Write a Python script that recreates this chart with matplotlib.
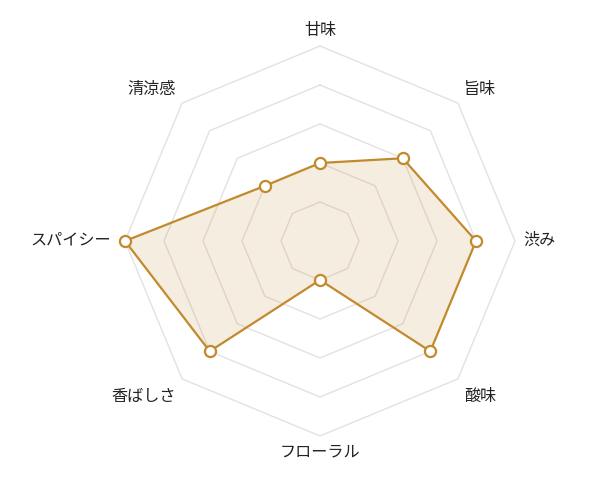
import numpy as np
import matplotlib
matplotlib.use('Agg')
import matplotlib.pyplot as plt

plt.rcParams['font.family'] = ['Noto Sans CJK JP', 'DejaVu Sans']

labels = ['甘味', '旨味', '渋み', '酸味', 'フローラル', '香ばしさ', 'スパイシー', '清涼感']
values = [2, 3, 4, 4, 1, 4, 5, 2]
levels = [1, 2, 3, 4, 5]

line_color = '#C28A2C'
grid_color = '#E2E2E2'

n = len(labels)
# clockwise from the top
angles = np.pi / 2 - np.arange(n) * 2 * np.pi / n

fig = plt.figure(figsize=(5.9, 4.82), dpi=100)
ax = fig.add_axes([0, 0, 1, 1])
px = 39.0  # pixels per unit
cx, cy = 320, 241
ax.set_xlim(-cx / px, (590 - cx) / px)
ax.set_ylim(-(482 - cy) / px, cy / px)
ax.axis('off')

# octagon grid
for lv in levels:
    gx = lv * np.cos(angles)
    gy = lv * np.sin(angles)
    ax.plot(np.append(gx, gx[0]), np.append(gy, gy[0]), color=grid_color, lw=1, zorder=1)

vx = np.array(values) * np.cos(angles)
vy = np.array(values) * np.sin(angles)
ax.fill(vx, vy, color=line_color, alpha=0.15, lw=0, zorder=2)
ax.plot(np.append(vx, vx[0]), np.append(vy, vy[0]), color=line_color, lw=1.6, zorder=3)
ax.plot(vx, vy, 'o', ms=8, mfc='white', mec=line_color, mew=1.6, zorder=4)

# axis labels
R = levels[-1]
for i, (lab, a) in enumerate(zip(labels, angles)):
    x = R * np.cos(a)
    y = R * np.sin(a)
    c = np.cos(a)
    s = np.sin(a)
    if abs(c) < 1e-6:
        ha = 'center'
        dx = 0
        dy = 16 if s > 0 else -16
    elif abs(s) < 1e-6:
        ha = 'left' if c > 0 else 'right'
        dx = 8 if c > 0 else -14
        dy = 1
    else:
        ha = 'left' if c > 0 else 'right'
        dx = 6 if c > 0 else -6
        dy = 14 if s > 0 else -18
    ax.text(x + dx / px, y + dy / px, lab, ha=ha, va='center', fontsize=11.6, color='#222222')

fig.savefig('out.png', dpi=100)
